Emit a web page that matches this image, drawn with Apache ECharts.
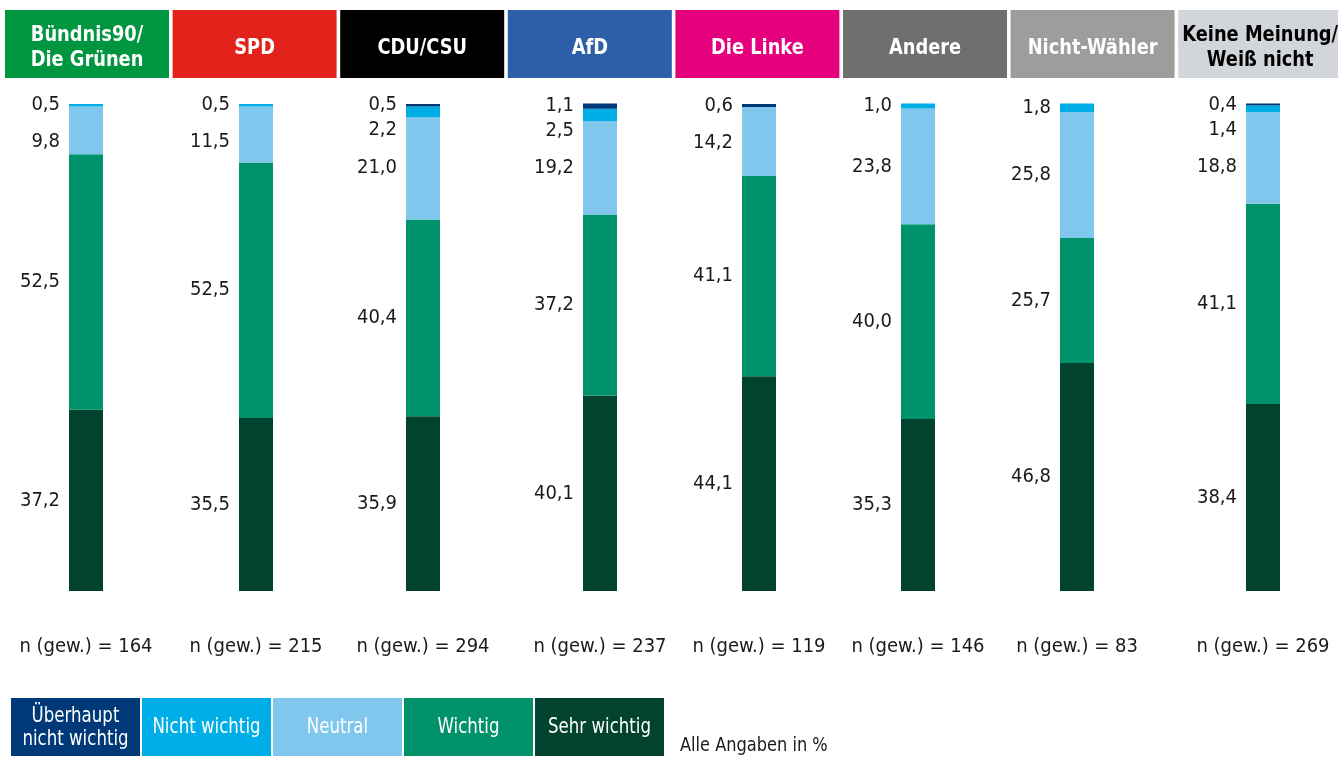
<!DOCTYPE html>
<html>
<head>
<meta charset="utf-8">
<script src="https://cdn.jsdelivr.net/npm/echarts@6/dist/echarts.min.js"></script>
<style>
  html, body { margin: 0; padding: 0; background: #fff; }
  #main { width: 1338px; height: 758px; }
</style>
</head>
<body>
<div id="main"></div>
<script>
// Parteien (Kopfzeile) und Fallzahlen
var parties = ['Bündnis90/\nDie Grünen', 'SPD', 'CDU/CSU', 'AfD', 'Die Linke', 'Andere', 'Nicht-Wähler', 'Keine Meinung/\nWeiß nicht'];
var nWeighted = [164, 215, 294, 237, 119, 146, 83, 269];

// Antwortkategorien, von unten nach oben gestapelt
var levels = ['Sehr wichtig', 'Wichtig', 'Neutral', 'Nicht wichtig', 'Überhaupt\nnicht wichtig'];
var sehrWichtig     = [37.2, 35.5, 35.9, 40.1, 44.1, 35.3, 46.8, 38.4];
var wichtig         = [52.5, 52.5, 40.4, 37.2, 41.1, 40.0, 25.7, 41.1];
var neutral         = [9.8, 11.5, 21.0, 19.2, 14.2, 23.8, 25.8, 18.8];
var nichtWichtig    = [0.5, 0.5, 2.2, 2.5, null, 1.0, 1.8, 1.4];
var ueberhauptNicht = [null, null, 0.5, 1.1, 0.6, null, null, 0.4];
var levelData = [sehrWichtig, wichtig, neutral, nichtWichtig, ueberhauptNicht];

// Farben / Layout
var partyColors = ['#00963f', '#e3231b', '#000000', '#2d5ea8', '#e5007e', '#6f6f6f', '#9d9d9c', '#d2d5d9'];
var partyTextColors = ['#fff', '#fff', '#fff', '#fff', '#fff', '#fff', '#fff', '#000'];
var levelColors = ['#02432f', '#00936b', '#80c7ee', '#00aee7', '#003978'];
var barCenters = [86, 256, 423, 600, 759, 918, 1077, 1263];
var FONT = "'Liberation Sans Narrow', 'DejaVu Sans Condensed', sans-serif";
var plotTop = 104, plotH = 487;

function fmt(p) {
  return Number(p.value).toFixed(1).replace('.', ',');
}

// Beschriftungen kleiner Segmente nach unten schieben, damit sie sich nicht überlappen
function labelShifts(col) {
  var cum = 0, centers = [], shifts = [];
  levelData.forEach(function (arr, k) {
    var v = arr[col] || 0;
    centers[k] = plotTop + plotH * (1 - (cum + v / 2) / 100);
    cum += v;
  });
  var last = -Infinity;
  for (var k = levelData.length - 1; k >= 0; k--) {
    var v = levelData[k][col];
    if (v == null) { shifts[k] = 0; continue; }
    var gap = v < 5 ? 25 : 37;
    var y = Math.max(centers[k], last + gap);
    shifts[k] = y - centers[k];
    last = y;
  }
  return shifts;
}

var grids = [], xAxes = [], yAxes = [], series = [], graphic = [];

parties.forEach(function (p, col) {
  grids.push({ left: barCenters[col] - 60, width: 120, top: plotTop, height: plotH });
  xAxes.push({
    type: 'category', gridIndex: col, data: [p],
    axisLine: { show: false }, axisTick: { show: false },
    axisLabel: {
      margin: 46, fontSize: 20, color: '#1a1a1a', fontFamily: FONT,
      formatter: function () { return 'n (gew.) = ' + nWeighted[col]; }
    }
  });
  yAxes.push({ type: 'value', gridIndex: col, min: 0, max: 100, show: false });

  var shifts = labelShifts(col);
  levelData.forEach(function (arr, k) {
    var v = arr[col];
    series.push({
      name: levels[k],
      type: 'bar',
      xAxisIndex: col,
      yAxisIndex: col,
      stack: 'col' + col,
      barWidth: 34,
      clip: false,
      itemStyle: { color: levelColors[k] },
      label: {
        show: true, position: 'left', distance: 9,
        fontSize: 20, color: '#1a1a1a', fontFamily: FONT,
        formatter: fmt
      },
      data: [v == null ? '-' : { value: v, label: { offset: [0, shifts[k]] } }]
    });
  });

  // Kopfzeile
  graphic.push({
    type: 'rect', x: 5 + col * 167.6, y: 10,
    shape: { width: 164, height: 68 },
    style: { fill: partyColors[col] }
  });
  graphic.push({
    type: 'text', x: 5 + col * 167.6 + 82, y: 48, scaleX: 0.9,
    style: {
      text: p, align: 'center', verticalAlign: 'middle',
      font: 'bold 22px ' + FONT, lineHeight: 25,
      fill: partyTextColors[col]
    }
  });
});

// Legende unten (umgekehrte Reihenfolge)
for (var i = 0; i < levels.length; i++) {
  var k = levels.length - 1 - i;
  graphic.push({
    type: 'rect', x: 11 + i * 131, y: 698,
    shape: { width: 129, height: 58 },
    style: { fill: levelColors[k] }
  });
  graphic.push({
    type: 'text', x: 11 + i * 131 + 64.5, y: 728, scaleX: 0.88,
    style: {
      text: levels[k], align: 'center', verticalAlign: 'middle',
      font: '21px ' + FONT, lineHeight: 23, fill: '#fff'
    }
  });
}
graphic.push({
  type: 'text', x: 680, y: 746, scaleX: 0.9,
  style: { text: 'Alle Angaben in %', verticalAlign: 'middle', font: '20px ' + FONT, fill: '#1a1a1a' }
});

var chart = echarts.init(document.getElementById('main'));
chart.setOption({
  animation: false,
  grid: grids,
  xAxis: xAxes,
  yAxis: yAxes,
  series: series,
  graphic: graphic
});
</script>
</body>
</html>
